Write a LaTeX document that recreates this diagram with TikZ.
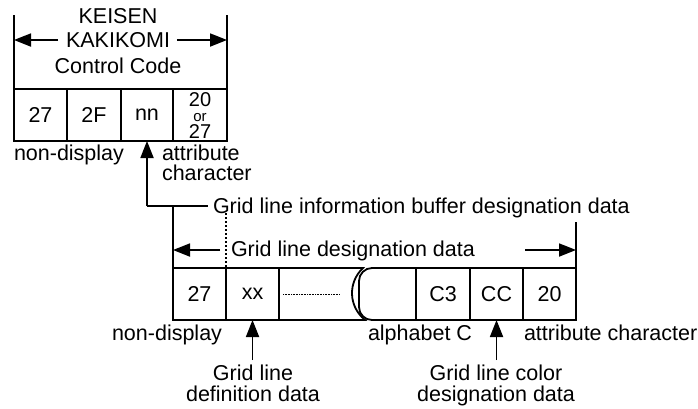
\documentclass[tikz,border=0pt]{standalone}
\usepackage{fontspec}
\setmainfont{Liberation Sans}
\usetikzlibrary{arrows.meta}
\begin{document}
\begin{tikzpicture}[x=1pt,y=-1pt,line width=1.8pt,line cap=butt,
  cell/.style={draw,minimum height=52pt,inner sep=0pt,outer sep=0pt,anchor=north west,font=\fontsize{21.5}{21.5}\selectfont},
  lbl/.style={font=\fontsize{21.5}{24}\selectfont,inner sep=0pt,outer sep=0pt},
  arr/.style={-{Triangle[length=17pt,width=13pt]}},
  dots/.style={line width=1.3pt,dash pattern=on 1.6pt off 2.4pt}]
\useasboundingbox (0,0) rectangle (698,408);
% ---------- top box ----------
\node[cell,minimum width=53pt] (a1) at (14,89) {27};
\node[cell,minimum width=54pt] (a2) at (67,89) {2F};
\node[cell,minimum width=52pt] (a3) at (121,89) {nn};
\node[cell,minimum width=54pt] (a4) at (173,89) {};
\node[lbl,font=\fontsize{20}{20}\selectfont] (s1) at (200,99.5) {20};
\node[lbl,font=\fontsize{15}{15}\selectfont] (s2) at (200,117.5) {or};
\node[lbl,font=\fontsize{20}{20}\selectfont] (s3) at (200,131.5) {27};
\coordinate (hl) at (14,15);
\coordinate (hr) at (227,15);
\draw (hl) -- (a1.north west);
\draw (hr) -- (a4.north east);
\node[lbl] (k1) at (118,16) {KEISEN};
\node[lbl] (k2) at (118,40) {KAKIKOMI};
\node[lbl] (k3) at (118,66) {Control Code};
\draw[arr] ([xshift=-8pt]k2.west) -- (hl |- k2.west);
\draw[arr] ([xshift=7pt]k2.east) -- (hr |- k2.east);
\node[lbl,anchor=base west] (nd1) at (14,160) {non-display};
\node[lbl,anchor=base west] (at1) at (162,160) {attribute};
\node[lbl,anchor=base west] (at2) at (162,180) {character};
% ---------- link ----------
\coordinate (j1) at (147,206);
\draw[arr] (j1) -- (a3.south);
\node[lbl,anchor=base west] (gib) at (213,213) {Grid line information buffer designation data};
\draw (j1) -- ([xshift=-5pt]gib.west |- j1);
% ---------- lower box ----------
\node[cell,minimum width=53pt] (b1) at (173,268) {27};
\node[cell,minimum width=53pt] (b2) at (226,268) {xx};
\draw (b2.north east) -- (363,268) .. controls (348,282) and (348,306) .. (365,320) -- (b2.south east);
\node[cell,minimum width=54pt] (b4) at (416,268) {C3};
\node[cell,minimum width=53pt] (b5) at (470,268) {CC};
\node[cell,minimum width=53pt] (b6) at (523,268) {20};
\draw[rounded corners=13pt] (b4.north west) -- (359,268) -- (359,320) -- (b4.south west);
\draw[line width=0.6pt,dash pattern=on 0.8pt off 0.8pt] (283,294) -- (340,294);
\coordinate (j2) at (173,206);
\draw (j2) -- (b1.north west);
\coordinate (r2) at (576,222);
\draw (r2) -- (b6.north east);
\coordinate (d1) at (226,213);
\draw[dots] (d1) -- (b2.north west);
\node[lbl,anchor=base west] (gld) at (231,256) {Grid line designation data};
\coordinate (la) at (220,250);
\draw[arr] (la) -- (la -| b1.west);
\coordinate (ra) at (525,250);
\draw[arr] (ra) -- (ra -| b6.east);
% ---------- bottom labels ----------
\node[lbl,anchor=base east] (nd2) at (222,340) {non-display};
\node[lbl,anchor=base west] (alc) at (368,340) {alphabet C};
\node[lbl,anchor=base west] (atc) at (524,340) {attribute character};
\coordinate (u1) at (b2.south |- 0,360);
\draw[arr] (u1) -- (b2.south);
\coordinate (u2) at (b5.south |- 0,360);
\draw[arr] (u2) -- (b5.south);
\node[lbl,anchor=base] (gl1) at (253,380) {Grid line};
\node[lbl,anchor=base] (gl2) at (253,401) {definition data};
\node[lbl,anchor=base] (gc1) at (496,380) {Grid line color};
\node[lbl,anchor=base] (gc2) at (496,401) {designation data};
\end{tikzpicture}
\end{document}
